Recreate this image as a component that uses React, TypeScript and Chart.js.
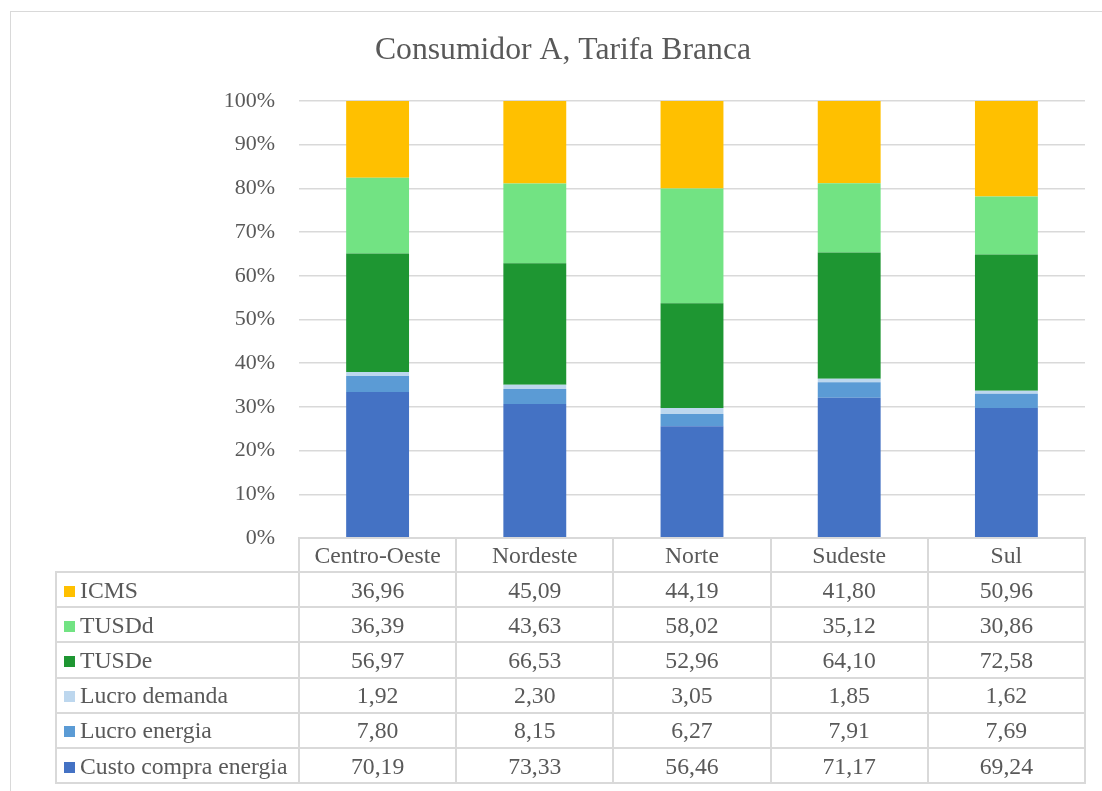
import React, { useEffect, useRef } from "react";
import { Chart, registerables } from "chart.js";

Chart.register(...registerables);

const categories = ["Centro-Oeste", "Nordeste", "Norte", "Sudeste", "Sul"];
const icms = [36.96, 45.09, 44.19, 41.8, 50.96];
const tusdd = [36.39, 43.63, 58.02, 35.12, 30.86];
const tusde = [56.97, 66.53, 52.96, 64.1, 72.58];
const lucroDemanda = [1.92, 2.3, 3.05, 1.85, 1.62];
const lucroEnergia = [7.8, 8.15, 6.27, 7.91, 7.69];
const custoCompra = [70.19, 73.33, 56.46, 71.17, 69.24];
const yTicks = [0, 10, 20, 30, 40, 50, 60, 70, 80, 90, 100];

const seriesBottomUp = [
  { label: "Custo compra energia", values: custoCompra, color: "#4472C4" },
  { label: "Lucro energia", values: lucroEnergia, color: "#5B9BD5" },
  { label: "Lucro demanda", values: lucroDemanda, color: "#BDD7EE" },
  { label: "TUSDe", values: tusde, color: "#1E9632" },
  { label: "TUSDd", values: tusdd, color: "#72E383" },
  { label: "ICMS", values: icms, color: "#FFC000" },
];

const totals = categories.map((_, i) =>
  seriesBottomUp.reduce((s, d) => s + d.values[i], 0)
);

const fmt = (v: number) => v.toFixed(2).replace(".", ",");

const FONT = "'Liberation Serif', 'Times New Roman', serif";
const TEXT = "#595959";
const GRID = "#D9D9D9";

// page layout (px)
const PLOT_LEFT = 299;
const PLOT_RIGHT = 1085;
const PLOT_TOP = 101;
const PLOT_BOTTOM = 538;
const CANVAS_W = 1102;
const CANVAS_H = 791;
const TABLE_LEFT = 56;
const HEADER_H = 34;
const ROW_H = 35.2;
const TITLE_SIZE = 31.7;
const TITLE_PAD_TOP = 32;
const TITLE_CENTER_X = 563;

export default function App() {
  const ref = useRef<HTMLCanvasElement | null>(null);

  useEffect(() => {
    if (!ref.current) return;
    const titleLine = TITLE_SIZE * 1.2;
    const chart = new Chart(ref.current, {
      type: "bar",
      data: {
        labels: categories,
        datasets: seriesBottomUp.map((s) => ({
          label: s.label,
          data: s.values.map((v, i) => (v / totals[i]) * 100),
          backgroundColor: s.color,
          borderWidth: 0,
          barPercentage: 0.4,
          categoryPercentage: 1,
        })),
      },
      options: {
        animation: false,
        responsive: false,
        maintainAspectRatio: false,
        layout: {
          padding: {
            left: 0,
            right: CANVAS_W - PLOT_RIGHT,
            top: 0,
            bottom: CANVAS_H - PLOT_BOTTOM,
          },
        },
        plugins: {
          legend: { display: false },
          tooltip: { enabled: false },
          title: {
            display: true,
            text: "Consumidor A, Tarifa Branca",
            color: TEXT,
            font: { family: FONT, size: TITLE_SIZE, weight: "normal" },
            padding: {
              top: TITLE_PAD_TOP,
              bottom: PLOT_TOP - TITLE_PAD_TOP - titleLine,
            },
          },
        },
        scales: {
          x: {
            stacked: true,
            display: false,
          },
          y: {
            stacked: true,
            min: 0,
            max: 100,
            afterFit: (s: any) => {
              s.width = PLOT_LEFT;
            },
            afterBuildTicks: (s: any) => {
              s.ticks = yTicks.map((v) => ({ value: v }));
            },
            border: { display: false },
            grid: { color: GRID, lineWidth: 1.5, drawTicks: false },
            ticks: {
              color: TEXT,
              padding: 24,
              font: { family: FONT, size: 22 },
              callback: (v: any) => v + "%",
            },
          },
        },
      },
      plugins: [
        {
          id: "shiftTitle",
          afterLayout: (c: any) => {
            const tb = c.titleBlock;
            if (tb) {
              const w = tb.right - tb.left;
              tb.left = TITLE_CENTER_X - w / 2;
              tb.right = TITLE_CENTER_X + w / 2;
            }
          },
        },
      ],
    });
    return () => chart.destroy();
  }, []);

  const rowsTopDown = [...seriesBottomUp].reverse();
  const cellBorder = `2px solid ${GRID}`;
  const colW = (PLOT_RIGHT - PLOT_LEFT) / categories.length;

  return (
    <div
      style={{
        position: "absolute",
        left: 0,
        top: 0,
        width: CANVAS_W,
        height: CANVAS_H,
        overflow: "hidden",
        background: "#fff",
      }}
    >
      <div
        style={{
          position: "absolute",
          left: 10,
          top: 11,
          width: 1200,
          height: 900,
          border: `1.5px solid ${GRID}`,
        }}
      />
      <canvas
        ref={ref}
        width={CANVAS_W}
        height={CANVAS_H}
        style={{ position: "absolute", left: 0, top: 0 }}
      />
      <table
        style={{
          position: "absolute",
          left: TABLE_LEFT - 1,
          top: PLOT_BOTTOM - 1,
          borderCollapse: "collapse",
          tableLayout: "fixed",
          fontFamily: FONT,
          fontSize: 23.7,
          color: TEXT,
        }}
      >
        <colgroup>
          <col style={{ width: PLOT_LEFT - TABLE_LEFT }} />
          {categories.map((c) => (
            <col key={c} style={{ width: colW }} />
          ))}
        </colgroup>
        <tbody>
          <tr style={{ height: HEADER_H }}>
            <td style={{ padding: 0 }} />
            {categories.map((c) => (
              <td
                key={c}
                style={{
                  border: cellBorder,
                  textAlign: "center",
                  padding: 0,
                  lineHeight: "24px",
                  whiteSpace: "nowrap",
                }}
              >
                {c}
              </td>
            ))}
          </tr>
          {rowsTopDown.map((s) => (
            <tr key={s.label} style={{ height: ROW_H }}>
              <td
                style={{
                  border: cellBorder,
                  padding: "0 0 0 7px",
                  whiteSpace: "nowrap",
                  lineHeight: "24px",
                }}
              >
                <span
                  style={{
                    display: "inline-block",
                    width: 11,
                    height: 11,
                    background: s.color,
                    marginRight: 5,
                    verticalAlign: "1px",
                  }}
                />
                {s.label}
              </td>
              {s.values.map((v, i) => (
                <td
                  key={i}
                  style={{
                    border: cellBorder,
                    textAlign: "center",
                    padding: 0,
                    lineHeight: "24px",
                  }}
                >
                  {fmt(v)}
                </td>
              ))}
            </tr>
          ))}
        </tbody>
      </table>
    </div>
  );
}
